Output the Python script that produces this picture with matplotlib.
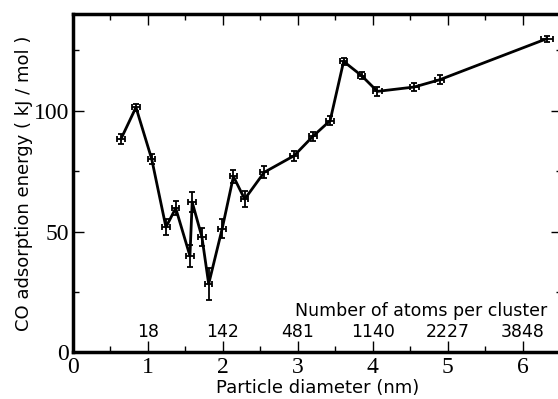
import numpy as np
import matplotlib
matplotlib.use("Agg")
import matplotlib.pyplot as plt

# particle diameter (nm) and CO adsorption energy (kJ/mol)
diameter = [0.64, 0.84, 1.05, 1.24, 1.37, 1.56, 1.59, 1.72, 1.81, 1.99, 2.14,
            2.29, 2.55, 2.95, 3.20, 3.43, 3.61, 3.85, 4.06, 4.55, 4.89, 6.32]
energy = [88.3, 101.4, 80.0, 51.8, 59.7, 39.9, 62.2, 47.7, 28.3, 51.2, 72.8,
          63.4, 74.5, 81.4, 89.4, 95.9, 120.4, 114.5, 108.0, 109.8, 112.8, 129.8]
diameter_err = [0.05, 0.05, 0.05, 0.05, 0.05, 0.05, 0.05, 0.05, 0.05, 0.05, 0.05,
                0.05, 0.05, 0.05, 0.05, 0.05, 0.05, 0.05, 0.06, 0.06, 0.06, 0.08]
energy_err = [2.0, 1.5, 2.0, 3.3, 3.0, 4.6, 4.0, 3.8, 6.6, 3.9, 2.6,
              3.2, 2.5, 2.0, 2.0, 2.0, 1.5, 1.5, 2.0, 1.8, 1.8, 1.2]

# cluster sizes shown along the bottom
atom_positions = [1, 2, 3, 4, 5, 6]
atom_labels = ["18", "142", "481", "1140", "2227", "3848"]

fig = plt.figure(figsize=(5.58, 3.99), dpi=100)
ax = fig.add_axes([0.1308, 0.1168, 0.8760, 0.848])

ax.errorbar(diameter, energy, xerr=diameter_err, yerr=energy_err,
            color="black", lw=2.0, elinewidth=1.3, capsize=2.2, capthick=1.3)

ax.set_xlim(0, 6.52)
ax.set_ylim(0, 140)
ax.set_xticks([0, 1, 2, 3, 4, 5, 6])
ax.set_yticks([0, 50, 100])
ax.set_xticks(np.arange(0.5, 6.5, 1.0), minor=True)
ax.set_yticks([25, 75, 125], minor=True)
ax.tick_params(which="both", direction="in", top=True, right=True,
               width=1.0, pad=3)
ax.tick_params(which="major", length=8, labelsize=17)
ax.tick_params(which="minor", length=4)
for lab in ax.get_xticklabels() + ax.get_yticklabels():
    lab.set_family("Liberation Serif")
for s in ax.spines.values():
    s.set_linewidth(2.5)

ax.set_xlabel("Particle diameter (nm)", fontsize=13, labelpad=1)
ax.set_ylabel("CO adsorption energy ( kJ / mol )", fontsize=13, labelpad=0)

ax.text(6.32, 17.1, "Number of atoms per cluster", fontsize=12.5,
        ha="right", va="center")
for xp, lab in zip(atom_positions, atom_labels):
    ax.text(xp, 8.5, lab, fontsize=12.5, ha="center", va="center")

fig.savefig("out.png", dpi=100)
